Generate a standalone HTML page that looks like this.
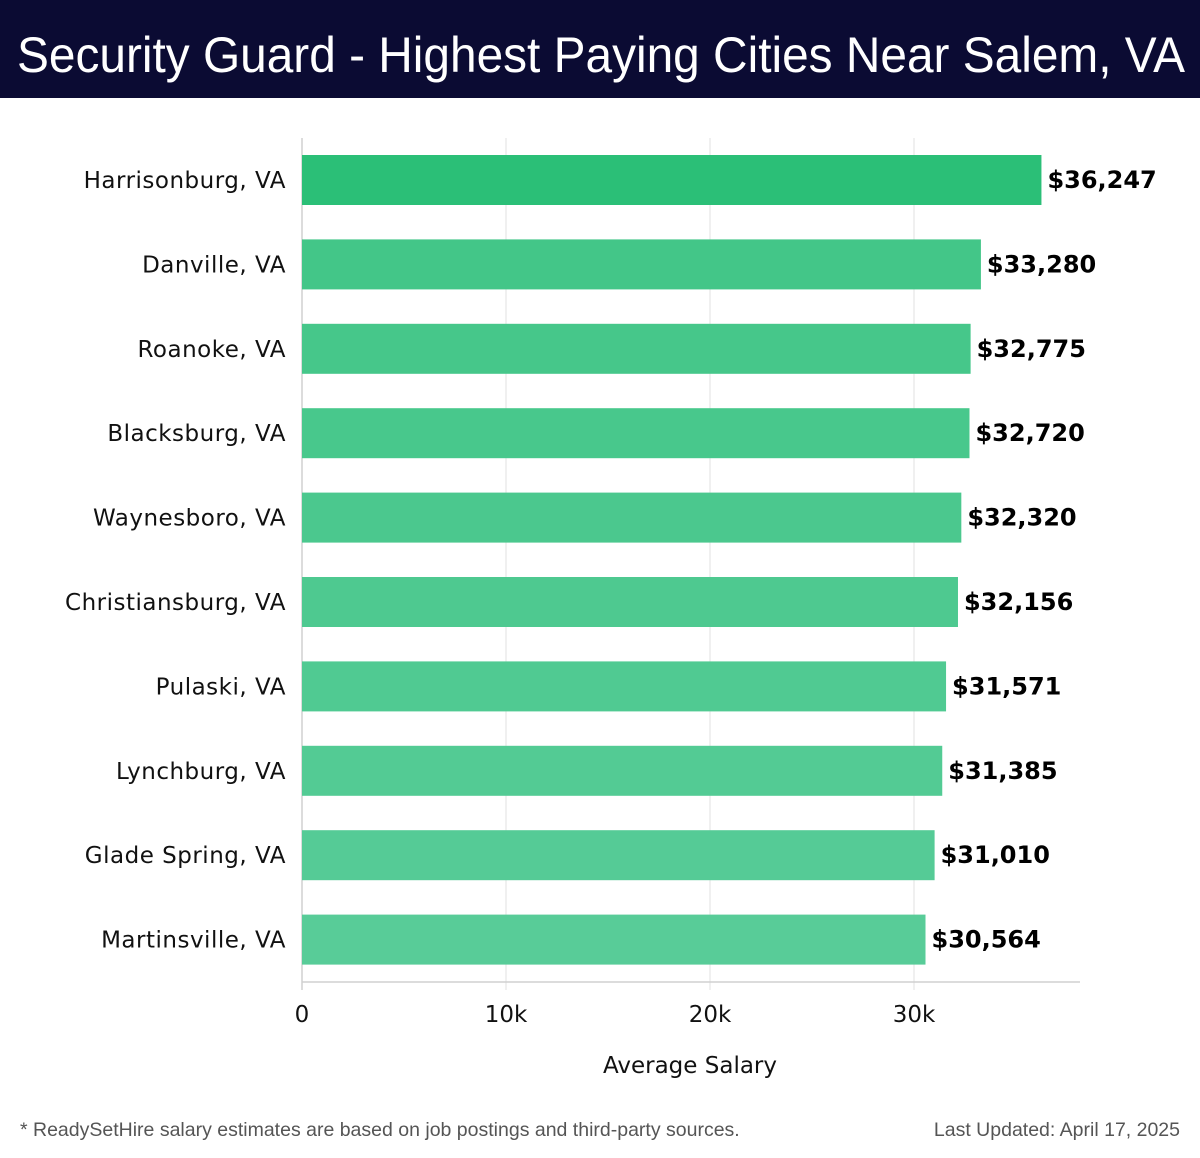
<!DOCTYPE html>
<html><head><meta charset="utf-8"><style>
body{margin:0;width:1200px;height:1158px;background:#fff;font-family:"Liberation Sans",sans-serif;overflow:hidden;position:relative}
#hdr{position:absolute;left:0;top:0;width:1200px;height:98px;background:#0b0b33}
.foot{position:absolute;top:1119px;font-size:19.5px;color:#555;letter-spacing:0px;white-space:nowrap}
</style></head><body>
<svg id="hdr" width="1200" height="98"><text x="17" y="72" textLength="1168" lengthAdjust="spacingAndGlyphs" font-size="50" fill="#fff" font-family="Liberation Sans, sans-serif">Security Guard - Highest Paying Cities Near Salem, VA</text></svg>
<svg id="chart" width="1200" height="1060" style="position:absolute;left:0;top:0;pointer-events:none"></svg>
<div class="foot" style="left:20px">* ReadySetHire salary estimates are based on job postings and third-party sources.</div>
<div class="foot" style="right:20px">Last Updated: April 17, 2025</div>
<script>
const cities=["Harrisonburg, VA","Danville, VA","Roanoke, VA","Blacksburg, VA","Waynesboro, VA","Christiansburg, VA","Pulaski, VA","Lynchburg, VA","Glade Spring, VA","Martinsville, VA"];
const salaries=[36247,33280,32775,32720,32320,32156,31571,31385,31010,30564];
const ticks=[0,10000,20000,30000];
const tickLabels=["0","10k","20k","30k"];
const ns="http://www.w3.org/2000/svg",svg=document.getElementById('chart');
svg.setAttribute('height','1158');
const x0=302,pxPer=0.0204,top0=138,step=84.4,barH=50;
const X=v=>x0+v*pxPer, Y=i=>top0+17+i*step;
const FF='DejaVu Sans, Liberation Sans, sans-serif';
function mk(t,a){const e=document.createElementNS(ns,t);for(const k in a)e.setAttribute(k,a[k]);svg.appendChild(e);return e;}
ticks.forEach((t,i)=>{
 const g=mk('line',{x1:X(t),x2:X(t),y1:138,y2:990,stroke:'#e2e2e2','stroke-width':1});
 
 
 const l=mk('text',{x:X(t),y:1022,'text-anchor':'middle','font-size':23,fill:'#111','font-family':FF});
 l.textContent=tickLabels[i];
 
 
});
const ax=mk('line',{x1:x0,x2:1080,y1:982,y2:982,stroke:'#d0d0d0','stroke-width':1.5});


const ay=mk('line',{x1:x0,x2:x0,y1:138,y2:990,stroke:'#d0d0d0','stroke-width':1.5});


cities.forEach((c,i)=>{
 let col=i==0?'rgb(43,191,119)':`rgb(${Math.round(67+(88-67)*(i-1)/8)},${Math.round(198+(204-198)*(i-1)/8)},${Math.round(136+(152-136)*(i-1)/8)})`;
 const r=mk('rect',{x:x0,y:Y(i),width:X(salaries[i])-x0,height:barH,fill:col});
 
 
 const lb=mk('text',{x:286,y:Y(i)+barH/2+8,'text-anchor':'end','font-size':23,'letter-spacing':0.5,fill:'#111','font-family':FF});
 lb.textContent=c;
 
 
 const v=mk('text',{x:X(salaries[i])+6,y:Y(i)+barH/2+8,'font-size':24,'font-weight':'bold',fill:'#000','font-family':FF});
 v.textContent='$'+salaries[i].toLocaleString('en-US');
 
 
});
const at=mk('text',{x:690,y:1073,'text-anchor':'middle','font-size':23,fill:'#111','font-family':FF});
at.textContent='Average Salary';


</script>
</body></html>
